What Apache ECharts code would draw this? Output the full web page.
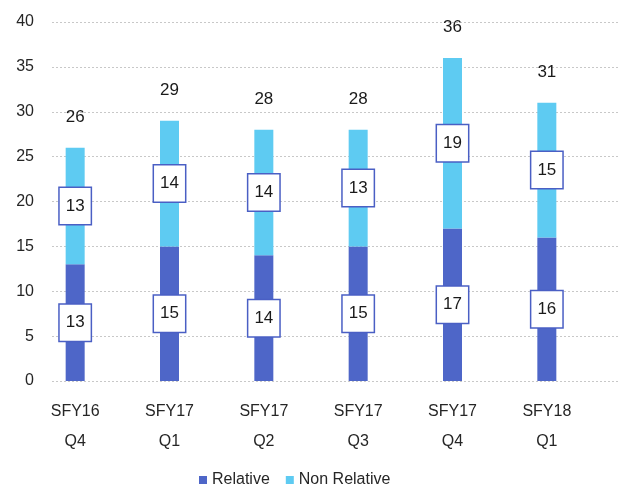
<!DOCTYPE html>
<html>
<head>
<meta charset="utf-8">
<script src="https://cdn.jsdelivr.net/npm/echarts@6/dist/echarts.min.js"></script>
<style>
  html, body { margin: 0; padding: 0; background: #fff; }
  #chart { width: 625px; height: 491px; }
</style>
</head>
<body>
<div id="chart"></div>
<script>
// data
const categories = ['SFY16\nQ4', 'SFY17\nQ1', 'SFY17\nQ2', 'SFY17\nQ3', 'SFY17\nQ4', 'SFY18\nQ1']
const relative = [13, 15, 14, 15, 17, 16]
const nonRelative = [13, 14, 14, 13, 19, 15]
const totals = [26, 29, 28, 28, 36, 31]

const FONT = '"Liberation Sans", Arial, sans-serif'

// boxed label used inside the stacked segments
const boxLabel = {
  show: true,
  position: 'inside',
  fontFamily: FONT,
  fontSize: 17,
  color: '#1a1a1a',
  backgroundColor: '#fff',
  borderColor: '#4a5fc4',
  borderWidth: 1.5,
  padding: [9, 6],
  lineHeight: 18
}

const chart = echarts.init(document.getElementById('chart'))

chart.setOption({
  animation: false,
  textStyle: { fontFamily: FONT },
  // grid 0 carries the value axis and gridlines, grid 1 carries the bars
  grid: [
    { left: 52, right: 7, top: 22, bottom: 110 },
    { left: 28, right: 31, top: 22, bottom: 110 }
  ],
  legend: {
    data: ['Relative', 'Non Relative'],
    left: 194,
    top: 467,
    icon: 'rect',
    itemWidth: 8,
    itemHeight: 8,
    itemGap: 16,
    textStyle: { fontFamily: FONT, fontSize: 16, color: '#262626' }
  },
  xAxis: [
    { type: 'category', gridIndex: 0, data: categories, show: false },
    {
      type: 'category',
      gridIndex: 1,
      data: categories,
      axisLine: { show: false },
      axisTick: { show: false },
      axisLabel: { fontFamily: FONT, fontSize: 16, color: '#262626', lineHeight: 30, margin: 16 }
    }
  ],
  yAxis: [
    {
      type: 'value',
      gridIndex: 0,
      min: 0,
      max: 40,
      interval: 5,
      axisLine: { show: false },
      axisTick: { show: false },
      axisLabel: { fontFamily: FONT, fontSize: 16, color: '#262626', margin: 18 },
      splitLine: { lineStyle: { color: '#c8c8c8', type: [2, 2], width: 1 } }
    },
    { type: 'value', gridIndex: 1, min: 0, max: 40, show: false, splitLine: { show: false } }
  ],
  series: [
    {
      name: 'Relative',
      type: 'bar',
      xAxisIndex: 1,
      yAxisIndex: 1,
      stack: 'total',
      barWidth: 19,
      itemStyle: { color: '#4e66c8' },
      label: boxLabel,
      data: relative
    },
    {
      name: 'Non Relative',
      type: 'bar',
      xAxisIndex: 1,
      yAxisIndex: 1,
      stack: 'total',
      barWidth: 19,
      itemStyle: { color: '#5ecbf2' },
      label: boxLabel,
      data: nonRelative
    },
    {
      // total above each stack
      name: 'Total',
      type: 'scatter',
      xAxisIndex: 1,
      yAxisIndex: 1,
      symbolSize: 0,
      itemStyle: { color: '#1a1a1a', opacity: 1 },
      label: {
        show: true,
        position: 'top',
        distance: 22,
        fontFamily: FONT,
        fontSize: 17,
        color: '#1a1a1a'
      },
      data: totals
    }
  ]
})
</script>
</body>
</html>
